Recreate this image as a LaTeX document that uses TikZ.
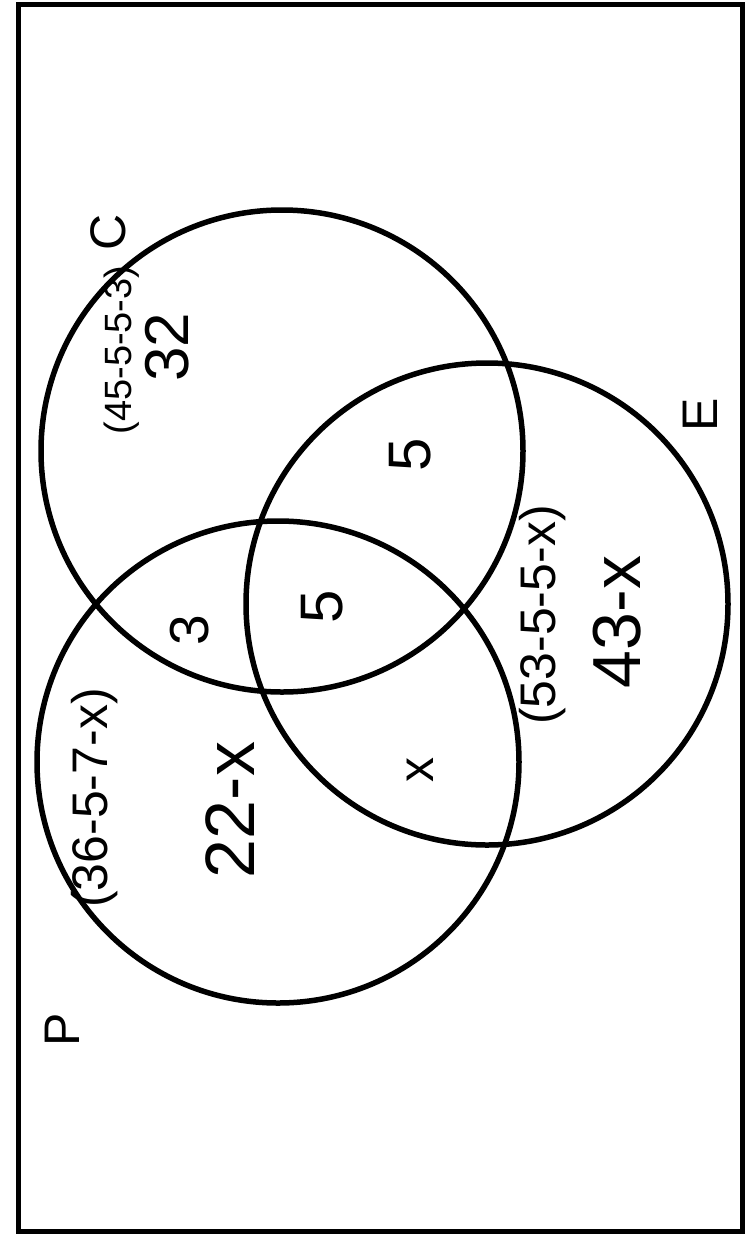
\documentclass[tikz,border=0pt]{standalone}
\usepackage{fontspec}
\setmainfont{Liberation Sans}
\usetikzlibrary{positioning}

\begin{document}
\begin{tikzpicture}[x=1pt, y=-1pt,
    set/.style={circle, draw=black, line width=5.5pt, minimum size=482pt, inner sep=0pt},
    tag/.style={rotate=90, inner sep=0pt, font=\fontsize{50}{50}\selectfont},
    term/.style={rotate=90, inner sep=0pt, font=\fontsize{#1}{#1}\selectfont},
    term/.default=50,
    count/.style={rotate=90, inner sep=0pt, font=\fontsize{#1}{#1}\selectfont},
    count/.default=62
  ]
    \useasboundingbox (0,0) rectangle (745,1240);
    % Frame
    \draw[line width=5pt] (18,4) rectangle (742,1231);

    % The three sets
    \node[set] (setC) at (282,451) {};
    \node[set] (setE) at (487,604) {};
    \node[set] (setP) at (278,762) {};

    % Set names
    \node[tag] (nameC) at (108,232)  {C};
    \node[tag] (nameE) at (700,415)  {E};
    \node[tag] (nameP) at (62,1030)  {P};

    % Only C
    \node[term=38] (workC) at (122,350) {(45-5-5-3)};
    \node[count]   (onlyC) at (167,347) {32};

    % Only E
    \node[term]      (workE) at (543,615) {(53-5-5-x)};
    \node[count=68]  (onlyE) at (617,622) {43-x};

    % Only P
    \node[term]      (workP) at (95,798)  {(36-5-7-x)};
    \node[count=70]  (onlyP) at (230,810) {22-x};

    % Overlaps
    \node[count=60] (CE)  at (410,455) {5};
    \node[count=55] (CP)  at (190,630) {3};
    \node[count=60] (CEP) at (322,607) {5};
    \node[count=50] (PE)  at (420,770) {x};
\end{tikzpicture}
\end{document}
